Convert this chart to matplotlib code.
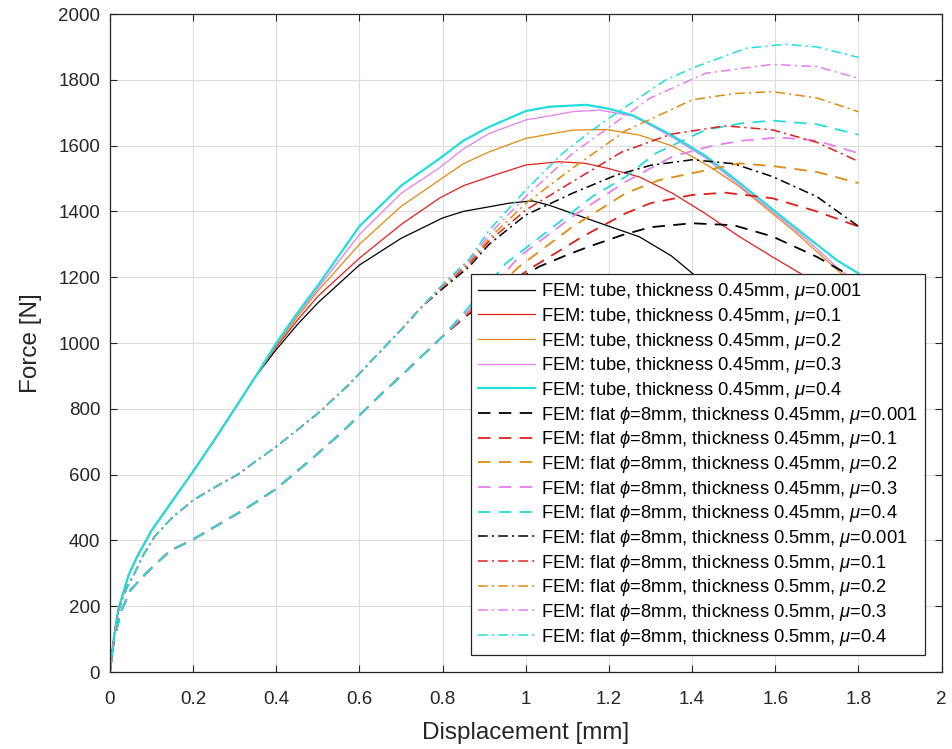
import matplotlib
matplotlib.use("Agg")
import matplotlib.pyplot as plt

plt.rcParams['font.family'] = ['Liberation Sans', 'DejaVu Sans']
plt.rcParams['mathtext.fontset'] = 'custom'
plt.rcParams['mathtext.it'] = 'Liberation Sans:italic'
plt.rcParams['mathtext.rm'] = 'Liberation Sans'
plt.rcParams['lines.scale_dashes'] = False

# ---------------- data ----------------
# tube, thickness 0.45 mm  (common initial part + tails per friction)
tube_x0 = [0, 0.01, 0.02, 0.045, 0.065, 0.1, 0.15, 0.2, 0.25, 0.3, 0.35]
tube_f0 = [0, 110, 190, 295, 350, 430, 520, 610, 703, 800, 898]

tube_mu001_x = [0.4, 0.45, 0.5, 0.6, 0.7, 0.8, 0.85, 0.912, 0.96, 1.016, 1.056, 1.112, 1.193, 1.273, 1.35, 1.41, 1.5, 1.6, 1.7, 1.8]
tube_mu001_f = [980, 1055, 1122, 1237, 1318, 1380, 1400, 1414, 1425, 1432, 1419, 1394, 1358, 1323, 1265, 1202, 1110, 1005, 900, 790]
tube_mu01_x = [0.4, 0.45, 0.5, 0.6, 0.7, 0.792, 0.85, 0.912, 1.0, 1.08, 1.144, 1.2, 1.273, 1.353, 1.43, 1.513, 1.593, 1.673, 1.75, 1.8]
tube_mu01_f = [988, 1068, 1142, 1258, 1360, 1440, 1478, 1505, 1541, 1551, 1546, 1530, 1505, 1455, 1395, 1324, 1262, 1202, 1140, 1100]
tube_mu02_x = [0.4, 0.45, 0.5, 0.6, 0.7, 0.792, 0.85, 0.912, 1.0, 1.112, 1.193, 1.273, 1.35, 1.4, 1.45, 1.513, 1.593, 1.65, 1.713, 1.8]
tube_mu02_f = [992, 1078, 1158, 1300, 1415, 1495, 1545, 1581, 1622, 1647, 1649, 1632, 1600, 1567, 1530, 1476, 1394, 1335, 1263, 1165]
tube_mu03_x = [0.4, 0.45, 0.5, 0.6, 0.7, 0.792, 0.85, 0.912, 1.0, 1.056, 1.112, 1.177, 1.257, 1.3, 1.353, 1.433, 1.513, 1.593, 1.673, 1.753, 1.8]
tube_mu03_f = [996, 1085, 1166, 1330, 1455, 1532, 1590, 1637, 1678, 1690, 1703, 1708, 1690, 1662, 1625, 1562, 1480, 1400, 1318, 1225, 1180]
tube_mu04_x = [0.4, 0.45, 0.5, 0.6, 0.7, 0.792, 0.85, 0.912, 1.0, 1.056, 1.145, 1.2, 1.257, 1.3, 1.353, 1.433, 1.513, 1.593, 1.673, 1.75, 1.8]
tube_mu04_f = [1000, 1090, 1175, 1355, 1478, 1560, 1615, 1657, 1705, 1718, 1724, 1712, 1692, 1665, 1630, 1568, 1488, 1407, 1326, 1250, 1212]

# flat phi=8mm, thickness 0.45 mm
flat45_x0 = [0, 0.01, 0.027, 0.05, 0.083, 0.12, 0.147, 0.2, 0.25, 0.307, 0.35, 0.4, 0.45, 0.5, 0.55, 0.6, 0.65, 0.7, 0.75, 0.8]
flat45_f0 = [0, 100, 185, 250, 295, 340, 370, 403, 440, 482, 515, 557, 610, 664, 720, 780, 842, 900, 960, 1020]

flat45_mu001_x = [0.85, 0.9, 0.95, 1.032, 1.1, 1.152, 1.232, 1.3, 1.4, 1.5, 1.593, 1.7, 1.77, 1.8]
flat45_mu001_f = [1075, 1125, 1170, 1232, 1268, 1293, 1328, 1352, 1364, 1358, 1324, 1262, 1212, 1190]
flat45_mu01_x = [0.85, 0.9, 1.008, 1.136, 1.24, 1.3, 1.4, 1.48, 1.593, 1.7, 1.8]
flat45_mu01_f = [1078, 1128, 1224, 1323, 1394, 1425, 1450, 1457, 1440, 1400, 1354]
flat45_mu02_x = [0.85, 0.9, 0.984, 1.112, 1.24, 1.32, 1.4, 1.513, 1.593, 1.7, 1.8]
flat45_mu02_f = [1080, 1135, 1232, 1353, 1455, 1495, 1516, 1546, 1538, 1520, 1486]
flat45_mu03_x = [0.85, 0.9, 0.984, 1.112, 1.24, 1.353, 1.45, 1.52, 1.61, 1.7, 1.8]
flat45_mu03_f = [1083, 1145, 1262, 1384, 1490, 1567, 1600, 1615, 1625, 1615, 1577]
flat45_mu04_x = [0.85, 0.952, 1.056, 1.16, 1.24, 1.313, 1.433, 1.52, 1.593, 1.7, 1.8]
flat45_mu04_f = [1090, 1242, 1343, 1445, 1505, 1577, 1648, 1668, 1676, 1665, 1633]

# flat phi=8mm, thickness 0.5 mm
flat50_x0 = [0, 0.01, 0.02, 0.04, 0.059, 0.08, 0.107, 0.15, 0.2, 0.25, 0.307, 0.35, 0.4, 0.45, 0.5, 0.572, 0.647, 0.7, 0.75]
flat50_f0 = [0, 105, 185, 255, 300, 355, 411, 470, 522, 560, 600, 640, 685, 735, 786, 870, 970, 1040, 1110]

flat50_mu001_x = [0.8, 0.864, 0.912, 1.0, 1.112, 1.217, 1.3, 1.4, 1.5, 1.593, 1.7, 1.8]
flat50_mu001_f = [1165, 1232, 1300, 1389, 1455, 1510, 1540, 1557, 1545, 1506, 1445, 1355]
flat50_mu01_x = [0.8, 0.864, 0.912, 1.0, 1.112, 1.23, 1.35, 1.48, 1.593, 1.7, 1.8]
flat50_mu01_f = [1170, 1240, 1310, 1404, 1490, 1580, 1635, 1660, 1648, 1610, 1552]
flat50_mu02_x = [0.8, 0.864, 0.912, 1.0, 1.112, 1.24, 1.4, 1.5, 1.593, 1.7, 1.8]
flat50_mu02_f = [1172, 1245, 1318, 1424, 1531, 1645, 1739, 1758, 1764, 1745, 1703]
flat50_mu03_x = [0.8, 0.864, 0.912, 1.0, 1.112, 1.225, 1.3, 1.433, 1.593, 1.7, 1.8]
flat50_mu03_f = [1175, 1250, 1330, 1445, 1576, 1678, 1745, 1820, 1847, 1840, 1805]
flat50_mu04_x = [0.8, 0.864, 0.912, 1.0, 1.088, 1.16, 1.217, 1.337, 1.41, 1.53, 1.625, 1.7, 1.8]
flat50_mu04_f = [1178, 1255, 1343, 1465, 1576, 1647, 1698, 1800, 1840, 1896, 1908, 1900, 1868]

mu_labels = ['0.001', '0.1', '0.2', '0.3', '0.4']
colors = ['#000000', '#e0201e', '#e08a10', '#e67ef0', '#22dddd']

x_ticks = [0, 0.2, 0.4, 0.6, 0.8, 1.0, 1.2, 1.4, 1.6, 1.8, 2.0]
x_ticklabels = ['0', '0.2', '0.4', '0.6', '0.8', '1', '1.2', '1.4', '1.6', '1.8', '2']
y_ticks = [0, 200, 400, 600, 800, 1000, 1200, 1400, 1600, 1800, 2000]

tube_tails = [(tube_mu001_x, tube_mu001_f), (tube_mu01_x, tube_mu01_f), (tube_mu02_x, tube_mu02_f),
              (tube_mu03_x, tube_mu03_f), (tube_mu04_x, tube_mu04_f)]
flat45_tails = [(flat45_mu001_x, flat45_mu001_f), (flat45_mu01_x, flat45_mu01_f), (flat45_mu02_x, flat45_mu02_f),
                (flat45_mu03_x, flat45_mu03_f), (flat45_mu04_x, flat45_mu04_f)]
flat50_tails = [(flat50_mu001_x, flat50_mu001_f), (flat50_mu01_x, flat50_mu01_f), (flat50_mu02_x, flat50_mu02_f),
                (flat50_mu03_x, flat50_mu03_f), (flat50_mu04_x, flat50_mu04_f)]

# ---------------- figure ----------------
fig = plt.figure(figsize=(9.52, 7.49), dpi=100)
ax = fig.add_axes([0.1155, 0.1028, 0.8735, 0.8785])

for i, (tx, tf) in enumerate(tube_tails):
    lw = 1.6 if i == 4 else 0.9
    ax.plot(tube_x0 + tx, tube_f0 + tf, color=colors[i], lw=lw,
            label=r'FEM: tube, thickness 0.45mm, $\mu$=' + mu_labels[i])
for i, (tx, tf) in enumerate(flat45_tails):
    ax.plot(flat45_x0 + tx, flat45_f0 + tf, color=colors[i], lw=1.3, dashes=(9, 6),
            label=r'FEM: flat $\phi$=8mm, thickness 0.45mm, $\mu$=' + mu_labels[i])
for i, (tx, tf) in enumerate(flat50_tails):
    ax.plot(flat50_x0 + tx, flat50_f0 + tf, color=colors[i], lw=1.1, dashes=(7, 3, 1.5, 3),
            label=r'FEM: flat $\phi$=8mm, thickness 0.5mm, $\mu$=' + mu_labels[i])

ax.set_xlim(0, 2)
ax.set_ylim(0, 2000)
ax.set_xticks(x_ticks)
ax.set_xticklabels(x_ticklabels)
ax.set_yticks(y_ticks)
ax.grid(True, color='#dedede', lw=0.8)
ax.set_axisbelow(True)
ax.tick_params(direction='in', length=5, width=0.8, top=True, right=True,
               labelsize=13.5, colors='#262626')
ax.tick_params(axis='x', pad=14)
ax.tick_params(axis='y', pad=7)
for s in ax.spines.values():
    s.set_color('#262626')
    s.set_linewidth(0.9)
ax.set_xlabel('Displacement [mm]', fontsize=17.5, color='#262626', labelpad=10)
ax.set_ylabel('Force [N]', fontsize=17.5, color='#262626', labelpad=12)

leg = ax.legend(loc='lower right', bbox_to_anchor=(0.98, 0.026), fontsize=13.2,
                frameon=True, fancybox=False, framealpha=1, edgecolor='#262626',
                handlelength=3.1, handletextpad=0.33, labelspacing=0.2,
                borderpad=0.4, borderaxespad=0)
leg.get_frame().set_linewidth(0.9)

fig.savefig('out.png', dpi=100)
